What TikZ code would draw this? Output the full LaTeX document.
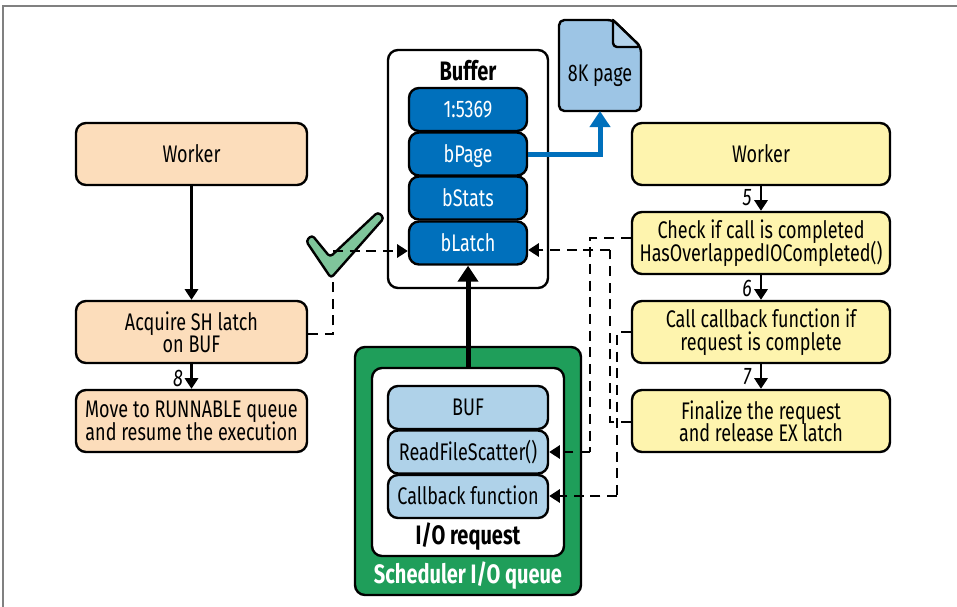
\documentclass[tikz,border=0pt]{standalone}
\usepackage{fontspec}
\setmainfont[FakeStretch=0.75]{Fira Sans}
\usetikzlibrary{arrows.meta,calc}
\definecolor{peach}{HTML}{FCDDBB}
\definecolor{lemon}{HTML}{FEF4AE}
\definecolor{deepblue}{HTML}{0070BC}
\definecolor{paleblue}{HTML}{AFD2E9}
\definecolor{pageblue}{HTML}{9DC5E5}
\definecolor{foldblue}{HTML}{B5D4EC}
\definecolor{qgreen}{HTML}{1F9E5A}
\definecolor{tick}{HTML}{7FC59B}
\definecolor{framegray}{HTML}{808080}
\tikzset{
  base/.style={draw=black,line width=2.4*0.75pt,rounded corners=7.5pt,inner sep=0pt,align=center,font=\fontsize{18pt}{16.8pt}\selectfont,execute at begin node={\lineskiplimit=-8pt\relax}},
  wh/.style n args={2}{minimum width=#1*0.75pt,minimum height=#2*0.75pt},
  flowL/.style={base,fill=peach,wh={231}{62}},
  flowR/.style={base,fill=lemon,wh={258}{62}},
  single/.style={text height=12.4pt,text depth=0.4pt},
  bufcell/.style={base,single,fill=deepblue,text=white,wh={118}{43}},
  iocell/.style={base,single,fill=paleblue,wh={160}{43}},
  flowarrow/.style={line width=2.2*0.75pt,-{Triangle[width=10pt,length=8pt]}},
  dashline/.style={line width=2*0.75pt,dash pattern=on 7.5pt off 5pt},
  dasharrow/.style={dashline,-{Triangle[width=10pt,length=8pt]}},
  numlabel/.style={font=\fontsize{18pt}{17pt}\selectfont\itshape,inner sep=0pt},
  titlelabel/.style={font=\fontsize{20pt}{18pt}\selectfont\bfseries,inner sep=0pt},
}
\begin{document}
\begin{tikzpicture}[x=0.75pt,y=-0.75pt]
\useasboundingbox (0,0) rectangle (957,607);
\draw[framegray,line width=1.5] (3,607) -- (3,6) -- (957,6);

% left column
\node[flowL,single] (wl) at (191.5,154) {Worker};
\node[flowL] (acq) at (191.5,332) {Acquire SH latch\\on BUF};
\node[flowL] (mov) at (191.5,421) {Move to RUNNABLE queue\\and resume the execution};

% right column
\node[flowR,single] (wr) at (761,154) {Worker};
\node[flowR] (chk) at (761,243) {Check if call is completed\\HasOverlappedIOCompleted()};
\node[flowR] (cal) at (761,332) {Call callback function if\\request is complete};
\node[flowR] (fin) at (761,421) {Finalize the request\\and release EX latch};

% buffer
\node[base,fill=white,wh={160}{238}] (buf) at (468,169) {};
\node[titlelabel] (buft) at (468,71) {Buffer};
\node[bufcell] (c1) at (468,109.5) {1:5369};
\node[bufcell] (c2) at (468,154) {bPage};
\node[bufcell] (c3) at (468,198) {bStats};
\node[bufcell] (c4) at (468,243) {bLatch};

% page
\coordinate (pg) at (600,111);
\draw[line width=2.4*0.75pt,fill=pageblue,rounded corners=4pt,line join=round]
  (559,20) -- (613,20) -- (641,47) -- (641,111) -- (559,111) -- cycle;
\draw[line width=2.4*0.75pt,fill=foldblue,line join=round]
  (613,20) -- (613,40) [rounded corners=3pt] -- (613,47) -- (641,47) [sharp corners] -- cycle;
\node[inner sep=0pt,font=\fontsize{18pt}{17pt}\selectfont] (pgt) at (600,76) {8K page};

% queue
\node[base,fill=qgreen,wh={226}{248}] (q) at (468,471) {};
\node[base,fill=white,wh={192}{188}] (io) at (468,462) {};
\node[iocell] (ib) at (468,407.5) {BUF};
\node[iocell] (ir) at (468,452) {ReadFileScatter()};
\node[iocell] (ic) at (468,496.5) {Callback function};
\node[titlelabel] (iot) at (468,537) {I/O request};
\node[titlelabel,text=white] (qt) at (468,576) {Scheduler I/O queue};

% check mark
\coordinate (tk) at (333,277);
\draw[line width=2.4*0.75pt,fill=tick,rounded corners=2.5pt,line join=round]
  (306,241) -- (312,235) -- (330,257) -- (378,212) -- (384,218) -- (331,278) -- cycle;

% solid arrows
\draw[flowarrow] (wl.south) -- (acq.north);
\draw[flowarrow] (acq.south) -- (mov.north);
\draw[flowarrow] (wr.south) -- (chk.north);
\draw[flowarrow] (chk.south) -- (cal.north);
\draw[flowarrow] (cal.south) -- (fin.north);
\node[numlabel] (n8) at (178,378) {8};
\node[numlabel] (n5) at (747,198) {5};
\node[numlabel] (n6) at (747,288) {6};
\node[numlabel] (n7) at (747,377) {7};

% heavy arrows
\draw[line width=5*0.75pt,-{Triangle[width=15pt,length=12pt]}] (io.north) -- (c4.south);
\draw[deepblue,line width=5*0.75pt,-{Triangle[width=15pt,length=12pt]}] (c2.east) -| (pg);

% dashed
\draw[dashline] ($(acq.east)+(0,2)$) -| (tk);
\draw[dasharrow] (333,251) -- (c4.west |- 0,251);
\draw[dashline] ($(chk.west)+(0,-5)$) -| (590,452);
\draw[dasharrow] (590,452) -- (ir.east);
\draw[dashline] ($(fin.west)+(0,1)$) -| (610,250);
\draw[dasharrow] (610,250) -- (c4.east |- 0,250);
\draw[dashline] (cal.west) -| (617,496);
\draw[dasharrow] (617,496) -- (ic.east |- 0,496);
\end{tikzpicture}
\end{document}
